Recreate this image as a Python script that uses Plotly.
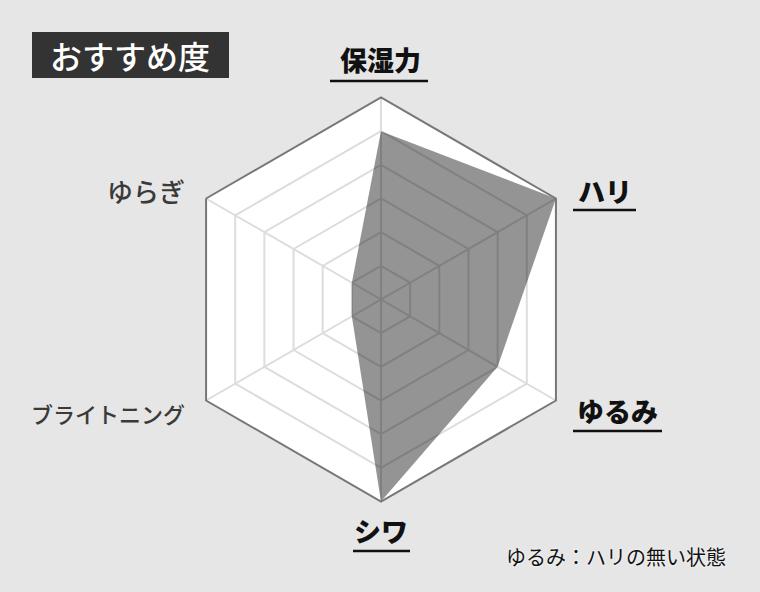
import plotly.graph_objects as go

# Data
categories = ['保湿力', 'ハリ', 'ゆるみ', 'シワ', 'ブライトニング', 'ゆらぎ']
scores = [5, 6, 4, 6, 1, 1]
max_score = 6

W, H = 760, 592
FONT = 'Noto Sans CJK JP'


def fx(x):
    return x / W


def fy(y):
    return 1 - y / H


fig = go.Figure()

fig.add_trace(go.Scatterpolar(
    r=scores + [scores[0]],
    theta=categories + [categories[0]],
    mode='lines',
    fill='toself',
    fillcolor='rgba(0,0,0,0.42)',
    line=dict(width=0, color='rgba(0,0,0,0)'),
    hoverinfo='skip',
    showlegend=False,
))

# axis labels (highlighted ones bold + underlined)
labels = [
    # text, x, y, size, color, weight, underline (x0, x1, y)
    ('保湿力', 380, 60, 27, '#111', 900, (330, 428, 81)),
    ('ハリ', 605, 190, 27, '#111', 900, (573, 636, 210)),
    ('ゆるみ', 617, 410, 27, '#111', 900, (573, 662, 431)),
    ('シワ', 381, 530, 27, '#111', 900, (353, 410, 551)),
    ('ブライトニング', 108, 413, 22, '#3a3a3a', 500, None),
    ('ゆらぎ', 146, 190, 26, '#3a3a3a', 500, None),
]

annotations = []
shapes = []
for text, x, y, size, color, weight, ul in labels:
    annotations.append(dict(
        text=text,
        x=fx(x), y=fy(y), xref='paper', yref='paper',
        xanchor='center', yanchor='middle', showarrow=False,
        font=dict(family=FONT, size=size, color=color, weight=weight),
    ))
    if ul:
        shapes.append(dict(
            type='line', xref='paper', yref='paper',
            x0=fx(ul[0]), x1=fx(ul[1]), y0=fy(ul[2]), y1=fy(ul[2]),
            line=dict(color='#111', width=2.5),
        ))

# title box
shapes.append(dict(
    type='rect', xref='paper', yref='paper',
    x0=fx(32), x1=fx(229), y0=fy(78), y1=fy(32),
    fillcolor='#333333', line=dict(width=0), layer='below',
))
annotations.append(dict(
    text='おすすめ度', x=fx(130), y=fy(55), xref='paper', yref='paper',
    xanchor='center', yanchor='middle', showarrow=False,
    font=dict(family=FONT, size=32, color='white', weight=500),
))

# footnote
annotations.append(dict(
    text='ゆるみ：ハリの無い状態', x=fx(728), y=fy(556), xref='paper', yref='paper',
    xanchor='right', yanchor='middle', showarrow=False,
    font=dict(family=FONT, size=20, color='#111', shadow='0px 0px 3px white'),
))

cx, cy, R = 381, 299.5, 202
fig.update_layout(
    width=W, height=H,
    paper_bgcolor='#e6e6e6',
    margin=dict(l=0, r=0, t=0, b=0),
    showlegend=False,
    polar=dict(
        domain=dict(x=[fx(cx - R), fx(cx + R)], y=[fy(cy + R), fy(cy - R)]),
        bgcolor='white',
        gridshape='linear',
        angularaxis=dict(
            rotation=90, direction='clockwise',
            showticklabels=False, ticks='',
            linecolor='#777777', linewidth=2,
            gridcolor='#dddddd', gridwidth=1.5,
        ),
        radialaxis=dict(
            range=[0, max_score], dtick=1,
            showticklabels=False, ticks='', showline=False,
            gridcolor='#dddddd', gridwidth=1.5,
        ),
    ),
    annotations=annotations,
    shapes=shapes,
)

fig.write_html("out.html", config={'displayModeBar': False},
               post_script="document.body.style.margin='0';")
